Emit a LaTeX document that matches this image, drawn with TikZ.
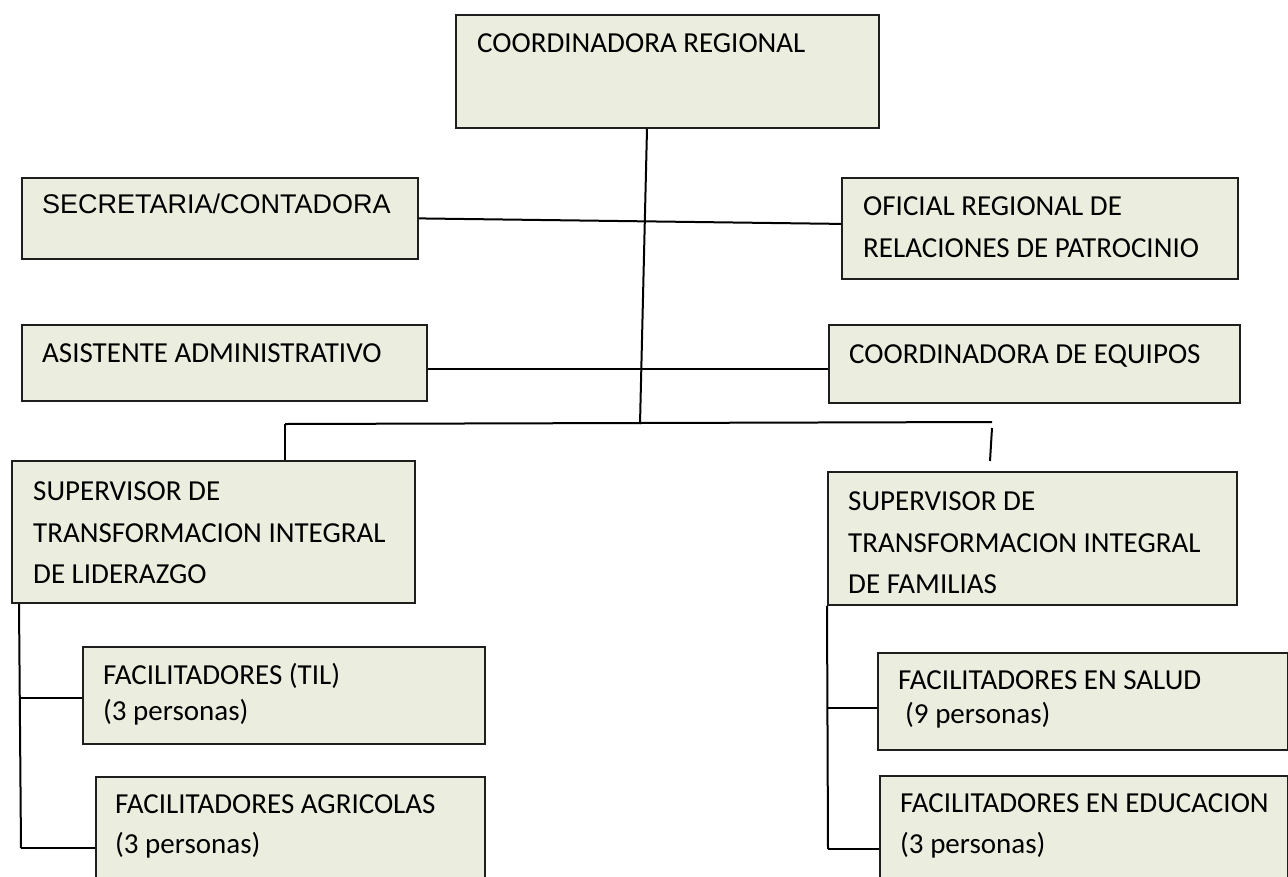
\documentclass[tikz,border=0pt]{standalone}
\usepackage{fontspec}
\setmainfont{Carlito}
\newfontfamily\arialfont{Liberation Sans}
\definecolor{boxfill}{RGB}{235,238,223}
\definecolor{boxline}{RGB}{30,30,30}
\begin{document}
\begin{tikzpicture}[x=1pt,y=-1pt,
  orgbox/.style={draw=boxline, line width=1.8pt, fill=boxfill, anchor=north west, inner sep=0pt},
  lbl/.style={anchor=base west, inner sep=0pt, font=\fontsize{29}{35}\selectfont},
  albl/.style={anchor=base west, inner sep=0pt, font=\arialfont\fontsize{27}{33}\selectfont},
  conn/.style={draw=black, line width=2pt}]
\useasboundingbox (0,0) rectangle (1288,876);

% boxes
\node[orgbox, minimum width=423pt, minimum height=113pt] (cr)  at (455,14)  {};
\node[orgbox, minimum width=396pt, minimum height=81pt]  (sec) at (21,177)  {};
\node[orgbox, minimum width=396pt, minimum height=101pt] (ofi) at (841,177) {};
\node[orgbox, minimum width=405pt, minimum height=76pt]  (asi) at (21,324)  {};
\node[orgbox, minimum width=411pt, minimum height=78pt]  (cde) at (828,324) {};
\node[orgbox, minimum width=403pt, minimum height=142pt] (lid) at (11,460)  {};
\node[orgbox, minimum width=409pt, minimum height=133pt] (fam) at (827,471) {};
\node[orgbox, minimum width=402pt, minimum height=97pt]  (til) at (82,646)  {};
\node[orgbox, minimum width=389pt, minimum height=120pt] (agr) at (95,776)  {};
\node[orgbox, minimum width=410pt, minimum height=97pt]  (sal) at (877,652) {};
\node[orgbox, minimum width=408pt, minimum height=120pt] (edu) at (879,775) {};

% texts
\node[lbl]  (tcr)  at (477,52)  {COORDINADORA REGIONAL};
\node[albl] (tsec) at (42,213)  {SECRETARIA/CONTADORA};
\node[lbl]  (tofa) at (863,215) {OFICIAL REGIONAL DE};
\node[lbl]  (tofb) at (863,257) {RELACIONES DE PATROCINIO};
\node[lbl]  (tasi) at (42,362)  {ASISTENTE ADMINISTRATIVO};
\node[lbl]  (tcde) at (849,363) {COORDINADORA DE EQUIPOS};
\node[lbl]  (tlia) at (33,500)  {SUPERVISOR DE};
\node[lbl]  (tlib) at (33,542)  {TRANSFORMACION INTEGRAL};
\node[lbl]  (tlic) at (33,583)  {DE LIDERAZGO};
\node[lbl]  (tfaa) at (848,510) {SUPERVISOR DE};
\node[lbl]  (tfab) at (848,552) {TRANSFORMACION INTEGRAL};
\node[lbl]  (tfac) at (848,593) {DE FAMILIAS};
\node[lbl]  (ttia) at (103,684) {FACILITADORES (TIL)};
\node[lbl]  (ttib) at (103,720) {(3 personas)};
\node[lbl]  (taga) at (115,813) {FACILITADORES AGRICOLAS};
\node[lbl]  (tagb) at (115,853) {(3 personas)};
\node[lbl]  (tsaa) at (898,689) {FACILITADORES EN SALUD};
\node[lbl]  (tsab) at (905,723) {(9 personas)};
\node[lbl]  (teda) at (900,812) {FACILITADORES EN EDUCACION};
\node[lbl]  (tedb) at (900,853) {(3 personas)};

% junction coordinates
\coordinate (j0)  at (640,424);
\coordinate (bl)  at (285,424);
\coordinate (br)  at (992,422);
\coordinate (fr)  at (990,461);
\coordinate (ltb) at (21,848);
\coordinate (rtb) at (828,849);

% connectors
\draw[conn] ([xshift=192pt]cr.south west) -- (j0);
\draw[conn] (sec.east) -- ([yshift=4.5pt]ofi.west);
\draw[conn] ([yshift=-6pt]asi.east) -- ([yshift=-5pt]cde.west);
\draw[conn] (bl) -- (br);
\draw[conn] (bl) -- (lid.north -| bl);
\draw[conn] ([yshift=-6pt]br) -- (fr);
\draw[conn] ([xshift=8pt]lid.south west) -- (ltb);
\draw[conn] ([yshift=-2.5pt]til.west) -- ([yshift=-2.5pt]til.west -| ltb);
\draw[conn] (ltb) -- (agr.west |- ltb);
\draw[conn] (fam.south west) -- (rtb);
\draw[conn] ([yshift=-7pt]sal.west) -- ([yshift=-7pt]sal.west -| rtb);
\draw[conn] (rtb) -- (edu.west |- rtb);
\end{tikzpicture}
\end{document}
